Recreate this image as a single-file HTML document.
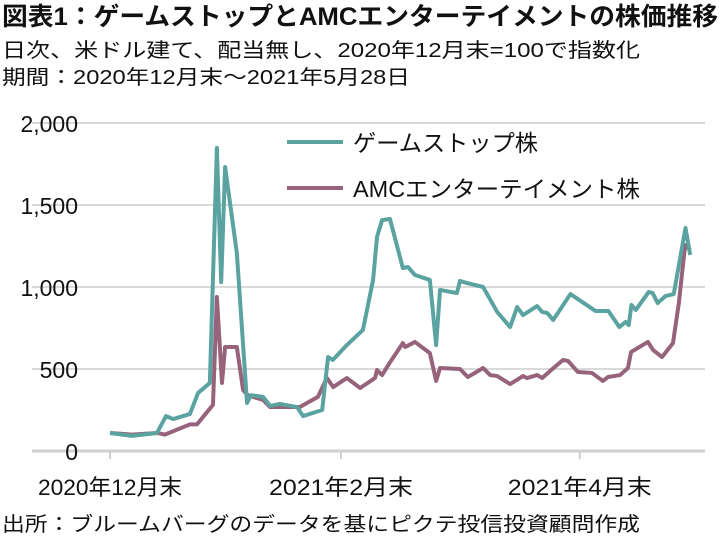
<!DOCTYPE html>
<html><head><meta charset="utf-8"><style>
body{margin:0;background:#fff;}
svg text{font-family:"Liberation Sans","Noto Sans CJK JP",sans-serif;fill:#111;}
</style></head><body>
<svg width="723" height="549" viewBox="0 0 723 549">
<text x="2" y="25" font-size="25" font-weight="bold" textLength="716" lengthAdjust="spacingAndGlyphs">図表1：ゲームストップとAMCエンターテイメントの株価推移</text>
<text x="2" y="57" font-size="20" textLength="638" lengthAdjust="spacingAndGlyphs">日次、米ドル建て、配当無し、2020年12月末=100で指数化</text>
<text x="2" y="84" font-size="20" textLength="408" lengthAdjust="spacingAndGlyphs">期間：2020年12月末～2021年5月28日</text>
<g id="grid"></g>
<g id="series"></g>
<line x1="287" y1="142" x2="343" y2="142" stroke="#5aa3a0" stroke-width="4"/>
<text x="353" y="151" font-size="23" textLength="185" lengthAdjust="spacingAndGlyphs">ゲームストップ株</text>
<line x1="287" y1="188" x2="343" y2="188" stroke="#96637a" stroke-width="4"/>
<text x="353" y="197" font-size="23" textLength="287" lengthAdjust="spacingAndGlyphs">AMCエンターテイメント株</text>
<text x="2" y="531" font-size="20" textLength="638" lengthAdjust="spacingAndGlyphs">出所：ブルームバーグのデータを基にピクテ投信投資顧問作成</text>
</svg>
<script>
const yTicks=[0,500,1000,1500,2000];
const yTickLabels=["0","500","1,000","1,500","2,000"];
const xTicks=[0,59,120];
const xTickLabels=["2020年12月末","2021年2月末","2021年4月末"];
const gmeDays=[0,5.6,12,14.3,16.1,20.4,22.5,25.5,27.3,28.4,29.4,32.4,35,36,39.1,40.9,43.4,47.8,49.3,54.2,55.7,56.9,60.5,64.6,67.2,68.2,69.5,71.5,74.8,76.1,77.9,81.7,83.3,84.3,88.6,89.4,91.2,95.3,98.9,102.2,104,105.5,109.1,110.4,111.7,113.2,117.6,124,127.3,130.1,131.7,132.5,133.2,134.3,137.6,138.6,139.9,141.9,144,147,148.2];
const gmeValues=[110,92,110,213,195,225,354,415,1848,1030,1732,1207,293,340,330,275,287,268,213,250,573,555,646,738,1043,1305,1408,1415,1116,1122,1073,1043,646,982,963,1037,1024,1000,848,756,878,829,884,848,841,799,957,854,854,756,787,768,890,860,970,963,902,945,957,1360,1195];
const amcDays=[0,5.6,12,14,20.4,22.2,26.3,27.3,28.6,29.4,32.4,34,35.2,39.1,40.9,48.5,53.1,55.4,57,60.5,63.9,67.7,68.2,69.5,71.5,74.8,75.4,77.9,81.7,83.3,84.3,89.4,91.4,95.3,97.1,98.9,102.2,105.5,106.5,109.1,110.4,112.4,115.7,117,119.5,123.1,125.9,127.2,130.3,132.3,133.1,137.4,138.7,141,143.8,145.3,146.9,148.2];
const amcValues=[110,100,110,100,162,162,281,939,415,634,634,372,340,311,268,268,330,445,390,445,384,445,494,463,540,658,634,665,597,427,506,500,451,506,463,457,408,457,445,463,445,488,555,549,482,476,427,451,463,506,604,665,616,573,658,902,1256,1226];
const NS="http://www.w3.org/2000/svg";
const X0=110,XD=3.915,Y0=451,YS=0.164,XR=705;
const xs=d=>X0+d*XD, ys=v=>Y0-v*YS;
const grid=document.getElementById('grid'), ser=document.getElementById('series');
function mk(tag,attrs,parent){const e=document.createElementNS(NS,tag);for(const k in attrs)e.setAttribute(k,attrs[k]);parent.appendChild(e);return e;}
yTicks.forEach((t,i)=>{
  const l=mk('line',{x1:32,x2:XR,y1:ys(t),y2:ys(t),stroke:t===0?'#cfcfcf':'#d9d9d9','stroke-width':t===0?3:2},grid);
  
  
  const tx=mk('text',{x:78,y:ys(t)+9,'font-size':23,'text-anchor':'end'},grid);
  tx.textContent=yTickLabels[i];
  
  
});
xTicks.forEach((d,i)=>{
  const l=mk('line',{x1:xs(d),x2:xs(d),y1:Y0,y2:Y0+8,stroke:'#cfcfcf','stroke-width':2},grid);
  
  
  const tx=mk('text',{x:xs(d)-72,y:495,'font-size':22,textLength:144,lengthAdjust:'spacingAndGlyphs'},grid);
  tx.textContent=xTickLabels[i];
  
  
});
function line(days,vals,color,name){
  const p=mk('polyline',{points:days.map((d,i)=>xs(d)+','+ys(vals[i])).join(' '),fill:'none',stroke:color,'stroke-width':4,'stroke-linejoin':'round'},ser);
  
  
}
line(amcDays,amcValues,'#96637a','amc-line');
line(gmeDays,gmeValues,'#5aa3a0','gme-line');
</script>
</body></html>
